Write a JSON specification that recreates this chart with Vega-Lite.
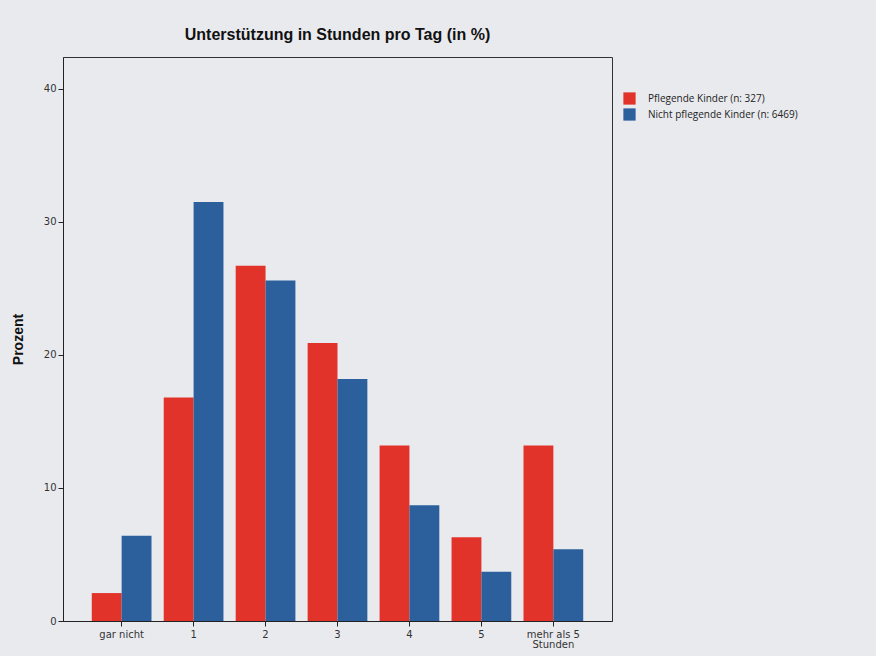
{
  "$schema": "https://vega.github.io/schema/vega-lite/v6.json",
  "width": 549,
  "height": 564,
  "autosize": {"type": "none"},
  "padding": {"left": 63, "top": 57, "right": 264, "bottom": 35},
  "background": "#e9eaee",
  "title": {
    "text": "Unterstützung in Stunden pro Tag (in %)",
    "font": "Liberation Sans",
    "fontSize": 16,
    "fontWeight": "bold",
    "color": "#111111",
    "anchor": "middle",
    "offset": 14
  },
  "data": {
    "values": [
      {"kategorie": "gar nicht", "gruppe": "Pflegende Kinder (n: 327)", "prozent": 2.1},
      {"kategorie": "gar nicht", "gruppe": "Nicht pflegende Kinder (n: 6469)", "prozent": 6.4},
      {"kategorie": "1", "gruppe": "Pflegende Kinder (n: 327)", "prozent": 16.8},
      {"kategorie": "1", "gruppe": "Nicht pflegende Kinder (n: 6469)", "prozent": 31.5},
      {"kategorie": "2", "gruppe": "Pflegende Kinder (n: 327)", "prozent": 26.7},
      {"kategorie": "2", "gruppe": "Nicht pflegende Kinder (n: 6469)", "prozent": 25.6},
      {"kategorie": "3", "gruppe": "Pflegende Kinder (n: 327)", "prozent": 20.9},
      {"kategorie": "3", "gruppe": "Nicht pflegende Kinder (n: 6469)", "prozent": 18.2},
      {"kategorie": "4", "gruppe": "Pflegende Kinder (n: 327)", "prozent": 13.2},
      {"kategorie": "4", "gruppe": "Nicht pflegende Kinder (n: 6469)", "prozent": 8.7},
      {"kategorie": "5", "gruppe": "Pflegende Kinder (n: 327)", "prozent": 6.3},
      {"kategorie": "5", "gruppe": "Nicht pflegende Kinder (n: 6469)", "prozent": 3.7},
      {"kategorie": "mehr als 5 Stunden", "gruppe": "Pflegende Kinder (n: 327)", "prozent": 13.2},
      {"kategorie": "mehr als 5 Stunden", "gruppe": "Nicht pflegende Kinder (n: 6469)", "prozent": 5.4}
    ]
  },
  "mark": {"type": "bar"},
  "encoding": {
    "x": {
      "field": "kategorie",
      "type": "nominal",
      "sort": null,
      "scale": {"paddingInner": 0.17, "paddingOuter": 0.4},
      "axis": {
        "title": null,
        "labelAngle": 0,
        "labelFont": "DejaVu Sans",
        "labelFontSize": 10,
        "labelColor": "#333333",
        "tickColor": "#222222",
        "tickSize": 5,
        "domainColor": "#222222",
        "labelPadding": 3,
        "labelLineHeight": 10,
        "labelExpr": "datum.value == 'mehr als 5 Stunden' ? ['mehr als 5', 'Stunden'] : datum.label"
      }
    },
    "xOffset": {
      "field": "gruppe",
      "type": "nominal",
      "sort": ["Pflegende Kinder (n: 327)", "Nicht pflegende Kinder (n: 6469)"],
      "scale": {"paddingInner": 0, "paddingOuter": 0}
    },
    "y": {
      "field": "prozent",
      "type": "quantitative",
      "scale": {"domain": [0, 42.4], "nice": false},
      "axis": {
        "title": "Prozent",
        "titleFont": "Liberation Sans",
        "titleFontSize": 14,
        "titleFontWeight": "bold",
        "titleColor": "#111111",
        "titlePadding": 18,
        "values": [0, 10, 20, 30, 40],
        "grid": false,
        "labelFont": "DejaVu Sans",
        "labelFontSize": 10,
        "labelColor": "#333333",
        "tickColor": "#222222",
        "tickSize": 5,
        "domainColor": "#222222",
        "labelPadding": 2
      }
    },
    "color": {
      "field": "gruppe",
      "type": "nominal",
      "sort": ["Pflegende Kinder (n: 327)", "Nicht pflegende Kinder (n: 6469)"],
      "scale": {
        "domain": ["Pflegende Kinder (n: 327)", "Nicht pflegende Kinder (n: 6469)"],
        "range": ["#e2332b", "#2b609d"]
      },
      "legend": {
        "title": null,
        "orient": "none",
        "legendX": 560,
        "legendY": 35,
        "padding": 0,
        "symbolType": "square",
        "symbolSize": 150,
        "symbolStrokeWidth": 0,
        "labelFont": "Open Sans",
        "labelFontSize": 10,
        "labelColor": "#222222",
        "rowPadding": 3,
        "labelOffset": 12
      }
    }
  },
  "config": {
    "view": {"stroke": "#333333", "strokeWidth": 1, "fill": "#e9eaee"}
  }
}
